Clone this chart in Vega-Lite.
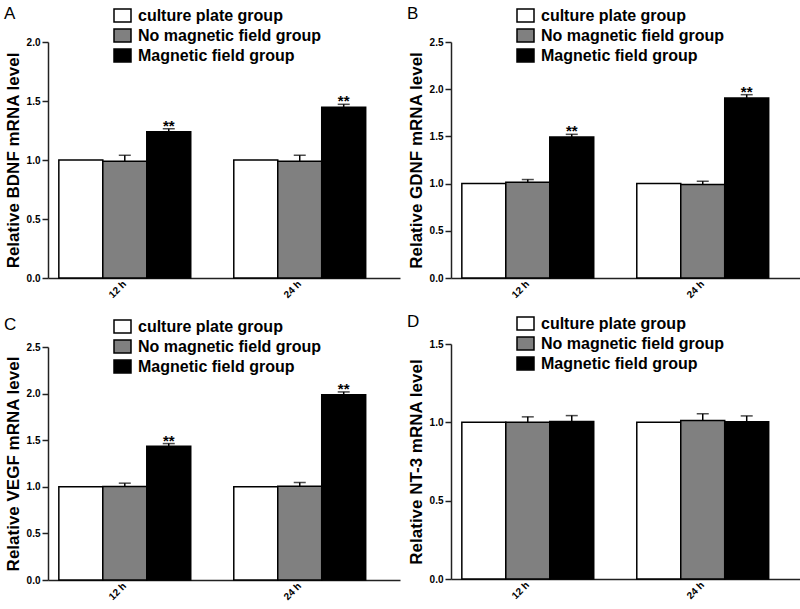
{
  "$schema": "https://vega.github.io/schema/vega-lite/v6.json",
  "padding": {"left": 4, "top": 5, "right": 0, "bottom": 0},
  "config": {
    "view": {"stroke": null},
    "font": "Liberation Sans",
    "axis": {
      "domainColor": "#222222", "domainWidth": 1.5, "tickColor": "#222222", "tickWidth": 1.5,
      "labelColor": "black", "labelFont": "Liberation Sans", "labelFontWeight": "bold", "labelFontSize": 10,
      "titleColor": "black", "titleFont": "Liberation Sans", "titleFontWeight": "bold", "titleFontSize": 17,
      "grid": false
    },
    "legend": {
      "orient": "none", "legendX": 65, "legendY": -36, "padding": 0,
      "symbolType": "M-1,-0.76H1V0.76H-1Z", "symbolSize": 289,
      "symbolStrokeColor": "black", "symbolStrokeWidth": 1.5, "symbolOpacity": 1,
      "labelFont": "Liberation Sans", "labelFontWeight": "bold", "labelFontSize": 16, "labelColor": "black",
      "labelOffset": 6, "rowPadding": 1, "labelLimit": 400
    },
    "title": {"anchor": "start", "frame": "bounds", "font": "Liberation Sans", "fontSize": 17, "fontWeight": "normal", "color": "black", "offset": -17}
  },
  "columns": 2,
  "spacing": 7,
  "resolve": {"scale": {"x": "independent", "y": "independent", "fill": "independent", "xOffset": "independent"}, "legend": {"fill": "independent"}, "axis": {"x": "independent", "y": "independent"}},
  "data": {"values": [
    {"panel": "A", "time": "12 h", "group": "culture plate group", "value": 1.0, "upper": null, "sig": null},
    {"panel": "A", "time": "12 h", "group": "No magnetic field group", "value": 0.99, "upper": 1.04, "sig": null},
    {"panel": "A", "time": "12 h", "group": "Magnetic field group", "value": 1.24, "upper": 1.265, "sig": "**"},
    {"panel": "A", "time": "24 h", "group": "culture plate group", "value": 1.0, "upper": null, "sig": null},
    {"panel": "A", "time": "24 h", "group": "No magnetic field group", "value": 0.99, "upper": 1.04, "sig": null},
    {"panel": "A", "time": "24 h", "group": "Magnetic field group", "value": 1.447, "upper": 1.472, "sig": "**"},
    {"panel": "B", "time": "12 h", "group": "culture plate group", "value": 1.0, "upper": null, "sig": null},
    {"panel": "B", "time": "12 h", "group": "No magnetic field group", "value": 1.014, "upper": 1.043, "sig": null},
    {"panel": "B", "time": "12 h", "group": "Magnetic field group", "value": 1.493, "upper": 1.522, "sig": "**"},
    {"panel": "B", "time": "24 h", "group": "culture plate group", "value": 1.0, "upper": null, "sig": null},
    {"panel": "B", "time": "24 h", "group": "No magnetic field group", "value": 0.99, "upper": 1.025, "sig": null},
    {"panel": "B", "time": "24 h", "group": "Magnetic field group", "value": 1.906, "upper": 1.942, "sig": "**"},
    {"panel": "C", "time": "12 h", "group": "culture plate group", "value": 1.0, "upper": null, "sig": null},
    {"panel": "C", "time": "12 h", "group": "No magnetic field group", "value": 1.004, "upper": 1.039, "sig": null},
    {"panel": "C", "time": "12 h", "group": "Magnetic field group", "value": 1.436, "upper": 1.464, "sig": "**"},
    {"panel": "C", "time": "24 h", "group": "culture plate group", "value": 1.0, "upper": null, "sig": null},
    {"panel": "C", "time": "24 h", "group": "No magnetic field group", "value": 1.007, "upper": 1.046, "sig": null},
    {"panel": "C", "time": "24 h", "group": "Magnetic field group", "value": 1.989, "upper": 2.018, "sig": "**"},
    {"panel": "D", "time": "12 h", "group": "culture plate group", "value": 1.0, "upper": null, "sig": null},
    {"panel": "D", "time": "12 h", "group": "No magnetic field group", "value": 1.0, "upper": 1.035, "sig": null},
    {"panel": "D", "time": "12 h", "group": "Magnetic field group", "value": 1.006, "upper": 1.043, "sig": null},
    {"panel": "D", "time": "24 h", "group": "culture plate group", "value": 1.0, "upper": null, "sig": null},
    {"panel": "D", "time": "24 h", "group": "No magnetic field group", "value": 1.011, "upper": 1.054, "sig": null},
    {"panel": "D", "time": "24 h", "group": "Magnetic field group", "value": 1.004, "upper": 1.041, "sig": null}
  ]},
  "concat": [
    {
      "spacing": 16,
      "resolve": {"scale": {"x": "independent", "y": "independent", "fill": "independent", "xOffset": "independent"}, "legend": {"fill": "independent"}, "axis": {"x": "independent", "y": "independent"}},
      "vconcat": [
        {
          "title": {"text": "A"},
          "width": 352, "height": 236,
          "transform": [{"filter": "datum.panel === 'A'"}],
          "encoding": {
            "x": {"field": "time", "type": "nominal", "sort": ["12 h", "24 h"], "scale": {"paddingInner": 0.246, "paddingOuter": 0.129, "align": 0.24}, "axis": {"title": null, "ticks": false, "labelAngle": -45, "labelAlign": "right", "labelBaseline": "middle", "labelPadding": 4}},
            "xOffset": {"field": "group", "type": "nominal", "sort": ["culture plate group", "No magnetic field group", "Magnetic field group"], "scale": {"paddingInner": 0, "paddingOuter": 0}}
          },
          "layer": [
            {"mark": {"type": "bar", "stroke": "black", "strokeWidth": 1.5},
             "encoding": {
               "y": {"field": "value", "type": "quantitative", "scale": {"domain": [0, 2], "nice": false}, "axis": {"title": "Relative BDNF mRNA level", "values": [0, 0.5, 1, 1.5, 2], "format": ".1f", "tickSize": 6, "labelPadding": 2, "titlePadding": 4}},
               "fill": {"field": "group", "type": "nominal", "sort": ["culture plate group", "No magnetic field group", "Magnetic field group"], "scale": {"domain": ["culture plate group", "No magnetic field group", "Magnetic field group"], "range": ["#ffffff", "#808080", "#000000"]}, "legend": {"title": null, "legendY": -36}}
             }},
            {"transform": [{"filter": "datum.upper != null"}], "mark": {"type": "rule", "color": "black", "strokeWidth": 1.5},
             "encoding": {"y": {"field": "value", "type": "quantitative"}, "y2": {"field": "upper"}}},
            {"transform": [{"filter": "datum.upper != null"}], "mark": {"type": "tick", "color": "black", "thickness": 1.5, "size": 12},
             "encoding": {"y": {"field": "upper", "type": "quantitative"}}},
            {"transform": [{"filter": "datum.sig != null"}], "mark": {"type": "text", "fontSize": 15, "fontWeight": "bold", "color": "black", "baseline": "alphabetic", "dy": 2},
             "encoding": {"y": {"field": "upper", "type": "quantitative"}, "text": {"field": "sig"}}}
          ]
        },
        {
          "title": {"text": "C"},
          "width": 352, "height": 233,
          "transform": [{"filter": "datum.panel === 'C'"}],
          "encoding": {
            "x": {"field": "time", "type": "nominal", "sort": ["12 h", "24 h"], "scale": {"paddingInner": 0.246, "paddingOuter": 0.129, "align": 0.24}, "axis": {"title": null, "ticks": false, "labelAngle": -45, "labelAlign": "right", "labelBaseline": "middle", "labelPadding": 4}},
            "xOffset": {"field": "group", "type": "nominal", "sort": ["culture plate group", "No magnetic field group", "Magnetic field group"], "scale": {"paddingInner": 0, "paddingOuter": 0}}
          },
          "layer": [
            {"mark": {"type": "bar", "stroke": "black", "strokeWidth": 1.5},
             "encoding": {
               "y": {"field": "value", "type": "quantitative", "scale": {"domain": [0, 2.5], "nice": false}, "axis": {"title": "Relative VEGF mRNA level", "values": [0, 0.5, 1, 1.5, 2, 2.5], "format": ".1f", "tickSize": 6, "labelPadding": 2, "titlePadding": 4}},
               "fill": {"field": "group", "type": "nominal", "sort": ["culture plate group", "No magnetic field group", "Magnetic field group"], "scale": {"domain": ["culture plate group", "No magnetic field group", "Magnetic field group"], "range": ["#ffffff", "#808080", "#000000"]}, "legend": {"title": null, "legendY": -30}}
             }},
            {"transform": [{"filter": "datum.upper != null"}], "mark": {"type": "rule", "color": "black", "strokeWidth": 1.5},
             "encoding": {"y": {"field": "value", "type": "quantitative"}, "y2": {"field": "upper"}}},
            {"transform": [{"filter": "datum.upper != null"}], "mark": {"type": "tick", "color": "black", "thickness": 1.5, "size": 12},
             "encoding": {"y": {"field": "upper", "type": "quantitative"}}},
            {"transform": [{"filter": "datum.sig != null"}], "mark": {"type": "text", "fontSize": 15, "fontWeight": "bold", "color": "black", "baseline": "alphabetic", "dy": 2},
             "encoding": {"y": {"field": "upper", "type": "quantitative"}, "text": {"field": "sig"}}}
          ]
        }
      ]
    },
    {
      "spacing": 13,
      "resolve": {"scale": {"x": "independent", "y": "independent", "fill": "independent", "xOffset": "independent"}, "legend": {"fill": "independent"}, "axis": {"x": "independent", "y": "independent"}},
      "vconcat": [
        {
          "title": {"text": "B"},
          "width": 352, "height": 236,
          "transform": [{"filter": "datum.panel === 'B'"}],
          "encoding": {
            "x": {"field": "time", "type": "nominal", "sort": ["12 h", "24 h"], "scale": {"paddingInner": 0.246, "paddingOuter": 0.129, "align": 0.24}, "axis": {"title": null, "ticks": false, "labelAngle": -45, "labelAlign": "right", "labelBaseline": "middle", "labelPadding": 4}},
            "xOffset": {"field": "group", "type": "nominal", "sort": ["culture plate group", "No magnetic field group", "Magnetic field group"], "scale": {"paddingInner": 0, "paddingOuter": 0}}
          },
          "layer": [
            {"mark": {"type": "bar", "stroke": "black", "strokeWidth": 1.5},
             "encoding": {
               "y": {"field": "value", "type": "quantitative", "scale": {"domain": [0, 2.5], "nice": false}, "axis": {"title": "Relative GDNF mRNA level", "values": [0, 0.5, 1, 1.5, 2, 2.5], "format": ".1f", "tickSize": 6, "labelPadding": 2, "titlePadding": 4}},
               "fill": {"field": "group", "type": "nominal", "sort": ["culture plate group", "No magnetic field group", "Magnetic field group"], "scale": {"domain": ["culture plate group", "No magnetic field group", "Magnetic field group"], "range": ["#ffffff", "#808080", "#000000"]}, "legend": {"title": null, "legendY": -36}}
             }},
            {"transform": [{"filter": "datum.upper != null"}], "mark": {"type": "rule", "color": "black", "strokeWidth": 1.5},
             "encoding": {"y": {"field": "value", "type": "quantitative"}, "y2": {"field": "upper"}}},
            {"transform": [{"filter": "datum.upper != null"}], "mark": {"type": "tick", "color": "black", "thickness": 1.5, "size": 12},
             "encoding": {"y": {"field": "upper", "type": "quantitative"}}},
            {"transform": [{"filter": "datum.sig != null"}], "mark": {"type": "text", "fontSize": 15, "fontWeight": "bold", "color": "black", "baseline": "alphabetic", "dy": 2},
             "encoding": {"y": {"field": "upper", "type": "quantitative"}, "text": {"field": "sig"}}}
          ]
        },
        {
          "title": {"text": "D"},
          "width": 352, "height": 235,
          "transform": [{"filter": "datum.panel === 'D'"}],
          "encoding": {
            "x": {"field": "time", "type": "nominal", "sort": ["12 h", "24 h"], "scale": {"paddingInner": 0.246, "paddingOuter": 0.129, "align": 0.24}, "axis": {"title": null, "ticks": false, "labelAngle": -45, "labelAlign": "right", "labelBaseline": "middle", "labelPadding": 4}},
            "xOffset": {"field": "group", "type": "nominal", "sort": ["culture plate group", "No magnetic field group", "Magnetic field group"], "scale": {"paddingInner": 0, "paddingOuter": 0}}
          },
          "layer": [
            {"mark": {"type": "bar", "stroke": "black", "strokeWidth": 1.5},
             "encoding": {
               "y": {"field": "value", "type": "quantitative", "scale": {"domain": [0, 1.5], "nice": false}, "axis": {"title": "Relative NT-3 mRNA level", "values": [0, 0.5, 1, 1.5], "format": ".1f", "tickSize": 6, "labelPadding": 2, "titlePadding": 4}},
               "fill": {"field": "group", "type": "nominal", "sort": ["culture plate group", "No magnetic field group", "Magnetic field group"], "scale": {"domain": ["culture plate group", "No magnetic field group", "Magnetic field group"], "range": ["#ffffff", "#808080", "#000000"]}, "legend": {"title": null, "legendY": -30}}
             }},
            {"transform": [{"filter": "datum.upper != null"}], "mark": {"type": "rule", "color": "black", "strokeWidth": 1.5},
             "encoding": {"y": {"field": "value", "type": "quantitative"}, "y2": {"field": "upper"}}},
            {"transform": [{"filter": "datum.upper != null"}], "mark": {"type": "tick", "color": "black", "thickness": 1.5, "size": 12},
             "encoding": {"y": {"field": "upper", "type": "quantitative"}}}
          ]
        }
      ]
    }
  ]
}
